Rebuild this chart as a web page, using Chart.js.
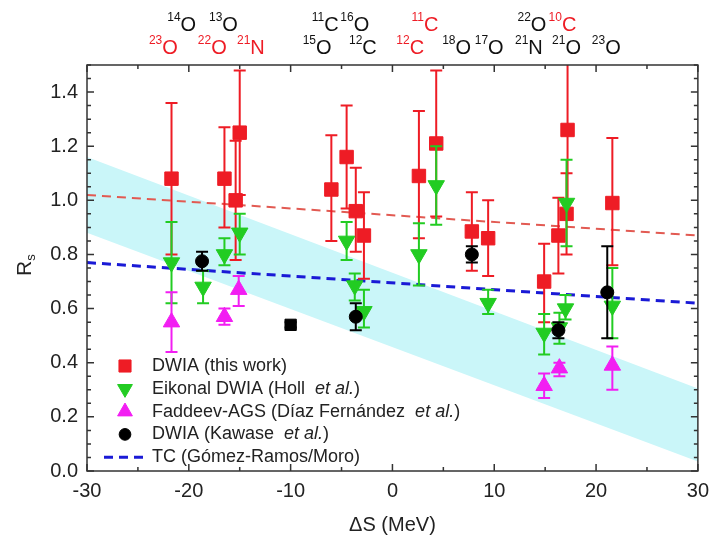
<!DOCTYPE html>
<html>
<head>
<meta charset="utf-8">
<script src="https://cdn.jsdelivr.net/npm/chart.js@4/dist/chart.umd.min.js"></script>
<style>
  html, body { margin: 0; padding: 0; background: #fff; }
  #wrap { width: 717px; height: 539px; }
</style>
</head>
<body>
<div id="wrap"><canvas id="rs"></canvas></div>
<script>
// --- data ---
const xTicks = [-30, -20, -10, 0, 10, 20, 30];
const yTicks = [0, 0.2, 0.4, 0.6, 0.8, 1.0, 1.2, 1.4];

// DWIA (this work)
const redX  = [-21.7, -16.5, -15.0, -15.4, -6.0, -4.5, -3.6, -2.8, 2.6, 4.3, 7.8, 9.4, 14.9, 16.3, 17.1, 17.2, 21.6];
const redY  = [1.08, 1.08, 1.25, 1.00, 1.04, 1.16, 0.96, 0.87, 1.09, 1.21, 0.885, 0.86, 0.70, 0.87, 0.95, 1.26, 0.99];
const redLo = [0.80, 0.90, 1.02, 0.78, 0.85, 0.97, 0.81, 0.71, 0.86, 0.94, 0.74, 0.72, 0.55, 0.73, 0.80, 1.00, 0.76];
const redHi = [1.36, 1.27, 1.48, 1.22, 1.24, 1.35, 1.12, 1.03, 1.33, 1.48, 1.03, 1.00, 0.84, 1.01, 1.10, 1.55, 1.23];

// Eikonal DWIA (Holl et al.)
const grnX  = [-21.7, -18.6, -16.5, -15.0, -4.5, -3.7, -2.8, 2.6, 4.3, 9.4, 14.9, 16.4, 17.0, 17.1, 21.6];
const grnY  = [0.77, 0.68, 0.80, 0.88, 0.85, 0.685, 0.59, 0.80, 1.055, 0.62, 0.51, 0.53, 0.60, 0.99, 0.61];
const grnLo = [0.62, 0.62, 0.76, 0.80, 0.78, 0.63, 0.53, 0.685, 0.91, 0.58, 0.43, 0.47, 0.56, 0.83, 0.49];
const grnHi = [0.92, 0.74, 0.86, 0.95, 0.92, 0.73, 0.67, 0.915, 1.20, 0.67, 0.58, 0.585, 0.65, 1.15, 0.75];

// Faddeev-AGS (Díaz Fernández et al.)
const magX  = [-21.7, -16.5, -15.1, 14.9, 16.4, 21.6];
const magY  = [0.55, 0.57, 0.67, 0.315, 0.38, 0.39];
const magLo = [0.44, 0.54, 0.61, 0.27, 0.35, 0.30];
const magHi = [0.66, 0.60, 0.72, 0.36, 0.40, 0.46];

// DWIA (Kawase et al.)
const blkX  = [-18.7, -3.6, 7.8, 16.3, 21.1];
const blkY  = [0.775, 0.57, 0.80, 0.52, 0.66];
const blkLo = [0.74, 0.52, 0.77, 0.49, 0.49];
const blkHi = [0.81, 0.62, 0.83, 0.55, 0.83];

// lone black square
const sqX  = [-10.0];
const sqY  = [0.54];
const sqLo = [0.53];
const sqHi = [0.55];

// straight lines and band, ends at -30 and 30
const lineX   = [-30, 30];
const redFit  = [1.02, 0.87];
const tcLine  = [0.77, 0.62];
const bandTop = [1.16, 0.305];
const bandBot = [0.88, 0.035];

// isotope labels above the frame: [mass, symbol, ΔS, row, red?]
const isoLabels = [
  ['14', 'O', -20.7, 0, false], ['13', 'O', -16.6, 0, false],
  ['11', 'C', -6.6, 0, false],  ['16', 'O', -3.7, 0, false],
  ['11', 'C', 3.2, 0, true],    ['22', 'O', 13.7, 0, false],
  ['10', 'C', 16.7, 0, true],
  ['23', 'O', -22.5, 1, true],  ['22', 'O', -17.7, 1, true],
  ['21', 'N', -13.9, 1, true],  ['15', 'O', -7.4, 1, false],
  ['12', 'C', -2.9, 1, false],  ['12', 'C', 1.75, 1, true],
  ['18', 'O', 6.3, 1, false],   ['17', 'O', 9.5, 1, false],
  ['21', 'N', 13.4, 1, false],  ['21', 'O', 17.1, 1, false],
  ['23', 'O', 21.0, 1, false]
];

const FONT = "'Liberation Sans', Arial, sans-serif";
const RED = '#ee1c25', GREEN = '#22cc22', MAG = '#f21ef2', BLACK = '#000', BLUE = '#1a1ad6';

const pts = (xs, ys) => xs.map((x, i) => ({ x, y: ys[i] }));

// error bars, drawn just before each dataset
const errorBars = {
  id: 'errorBars',
  beforeDatasetDraw(chart, args) {
    const ds = chart.data.datasets[args.index];
    if (!ds.errLo) return;
    const { ctx, chartArea: a, scales: { x, y } } = chart;
    ctx.save();
    ctx.beginPath(); ctx.rect(a.left, a.top, a.right - a.left, a.bottom - a.top); ctx.clip();
    ctx.strokeStyle = ds.backgroundColor; ctx.lineWidth = 2;
    ds.data.forEach((p, i) => {
      const px = x.getPixelForValue(p.x);
      const lo = y.getPixelForValue(ds.errLo[i]), hi = y.getPixelForValue(ds.errHi[i]);
      ctx.beginPath();
      ctx.moveTo(px, lo); ctx.lineTo(px, hi);
      ctx.moveTo(px - 6, lo); ctx.lineTo(px + 6, lo);
      ctx.moveTo(px - 6, hi); ctx.lineTo(px + 6, hi);
      ctx.stroke();
    });
    ctx.restore();
  }
};

// frame with inward ticks, axis titles, isotope labels, legend
const decor = {
  id: 'decor',
  afterDraw(chart) {
    const { ctx, chartArea: a, scales: { x, y } } = chart;
    ctx.save();
    ctx.strokeStyle = '#333'; ctx.lineWidth = 1.5;
    ctx.strokeRect(a.left, a.top, a.right - a.left, a.bottom - a.top);
    ctx.beginPath();
    for (let v = -30; v <= 30; v += 5) {
      const px = x.getPixelForValue(v), len = v % 10 === 0 ? 7 : 4;
      ctx.moveTo(px, a.bottom); ctx.lineTo(px, a.bottom - len);
      ctx.moveTo(px, a.top); ctx.lineTo(px, a.top + len);
    }
    for (let k = 0; k <= 30; k++) {
      const py = y.getPixelForValue(k * 0.05), len = k % 4 === 0 ? 7 : 4;
      ctx.moveTo(a.left, py); ctx.lineTo(a.left + len, py);
      ctx.moveTo(a.right, py); ctx.lineTo(a.right - len, py);
    }
    ctx.stroke();

    // axis titles
    ctx.fillStyle = '#222';
    ctx.font = '20px ' + FONT; ctx.textAlign = 'center'; ctx.textBaseline = 'middle';
    ctx.fillText('ΔS (MeV)', (a.left + a.right) / 2, 525);
    ctx.save();
    ctx.translate(24, 266); ctx.rotate(-Math.PI / 2);
    ctx.textAlign = 'left'; ctx.textBaseline = 'alphabetic';
    ctx.font = '21px ' + FONT;
    const rw = ctx.measureText('R').width;
    ctx.fillText('R', -10, 7);
    ctx.font = '13px ' + FONT;
    ctx.fillText('s', -10 + rw, 11);
    ctx.restore();

    // isotope labels
    ctx.textAlign = 'left'; ctx.textBaseline = 'alphabetic';
    isoLabels.forEach(([m, s, dS, row, red]) => {
      ctx.fillStyle = red ? RED : '#111';
      ctx.font = '12px ' + FONT; const mw = ctx.measureText(m).width;
      ctx.font = '20px ' + FONT; const sw = ctx.measureText(s).width;
      const x0 = x.getPixelForValue(dS) - (mw + sw) / 2, base = row === 0 ? 31 : 54;
      ctx.font = '12px ' + FONT; ctx.fillText(m, x0, base - 10);
      ctx.font = '20px ' + FONT; ctx.fillText(s, x0 + mw, base);
    });

    // legend
    const rows = chart.data.datasets.filter(d => d.legendOrder !== undefined)
      .sort((p, q) => p.legendOrder - q.legendOrder);
    rows.forEach((d, i) => {
      const cy = 366 + i * 22.8;
      if (d.type === 'line') {
        ctx.save();
        ctx.strokeStyle = d.borderColor; ctx.lineWidth = d.borderWidth; ctx.setLineDash(d.borderDash);
        ctx.beginPath(); ctx.moveTo(104, cy); ctx.lineTo(148, cy); ctx.stroke();
        ctx.restore();
      } else {
        ctx.fillStyle = d.backgroundColor; ctx.strokeStyle = d.backgroundColor; ctx.lineWidth = 1;
        Chart.helpers.drawPoint(ctx, { pointStyle: d.pointStyle, rotation: d.pointRotation || 0, radius: d.pointRadius * 0.9, borderWidth: 1 }, 125, cy);
      }
      ctx.fillStyle = '#222'; ctx.textBaseline = 'middle';
      const parts = d.label.split('et al.');
      let tx = 152;
      parts.forEach((t, j) => {
        ctx.font = '18px ' + FONT; ctx.fillText(t, tx, cy); tx += ctx.measureText(t).width;
        if (j < parts.length - 1) {
          ctx.font = 'italic 18px ' + FONT; ctx.fillText('et al.', tx, cy); tx += ctx.measureText('et al.').width;
        }
      });
    });
    ctx.restore();
  }
};

const marker = (label, xs, ys, lo, hi, color, style, r, order, extra) => Object.assign({
  type: 'scatter', label, data: pts(xs, ys), errLo: lo, errHi: hi,
  backgroundColor: color, borderColor: color, borderWidth: 1,
  pointStyle: style, pointRadius: r, order
}, extra || {});

const line = (label, ys, color, width, dash, order, extra) => Object.assign({
  type: 'line', label, data: pts(lineX, ys), borderColor: color, borderWidth: width,
  borderDash: dash, pointRadius: 0, fill: false, order
}, extra || {});

new Chart(document.getElementById('rs'), {
  type: 'scatter',
  data: {
    datasets: [
      line('band low', bandBot, 'rgba(0,0,0,0)', 0, [], 20),
      line('band high', bandTop, 'rgba(0,0,0,0)', 0, [], 19, { fill: { target: 0 }, backgroundColor: '#caf6f9' }),
      line('fit', redFit, '#e25a52', 2, [9, 6], 10),
      line('TC (Gómez-Ramos/Moro)', tcLine, BLUE, 3, [9, 6], 9, { legendOrder: 4 }),
      marker('DWIA (this work)', redX, redY, redLo, redHi, RED, 'rect', 9.5, 5, { legendOrder: 0 }),
      marker('Eikonal DWIA (Holl  et al.)', grnX, grnY, grnLo, grnHi, GREEN, 'triangle', 9.5, 4, { pointRotation: 180, legendOrder: 1 }),
      marker('Faddeev-AGS (Díaz Fernández  et al.)', magX, magY, magLo, magHi, MAG, 'triangle', 9.5, 3, { legendOrder: 2 }),
      marker('DWIA (Kawase  et al.)', blkX, blkY, blkLo, blkHi, BLACK, 'circle', 6.5, 2, { legendOrder: 3 }),
      marker('square', sqX, sqY, sqLo, sqHi, BLACK, 'rect', 8, 1)
    ]
  },
  options: {
    responsive: true, maintainAspectRatio: false, animation: false,
    layout: { padding: { left: 0, top: 65, right: 14, bottom: 0 } },
    plugins: { legend: { display: false }, tooltip: { enabled: false } },
    scales: {
      x: {
        type: 'linear', min: -30, max: 30,
        grid: { display: false, drawTicks: false }, border: { display: false },
        afterBuildTicks: s => { s.ticks = xTicks.map(v => ({ value: v })); },
        afterFit: s => { s.height = 68; },
        ticks: { padding: 8, color: '#222', font: { family: FONT, size: 20 }, maxRotation: 0, callback: v => String(v) }
      },
      y: {
        type: 'linear', min: 0, max: 1.5,
        grid: { display: false, drawTicks: false }, border: { display: false },
        afterBuildTicks: s => { s.ticks = yTicks.map(v => ({ value: v })); },
        afterFit: s => { s.width = 87; },
        ticks: { padding: 9, color: '#222', font: { family: FONT, size: 20 }, callback: v => v.toFixed(1) }
      }
    }
  },
  plugins: [errorBars, decor]
});
</script>
</body>
</html>
